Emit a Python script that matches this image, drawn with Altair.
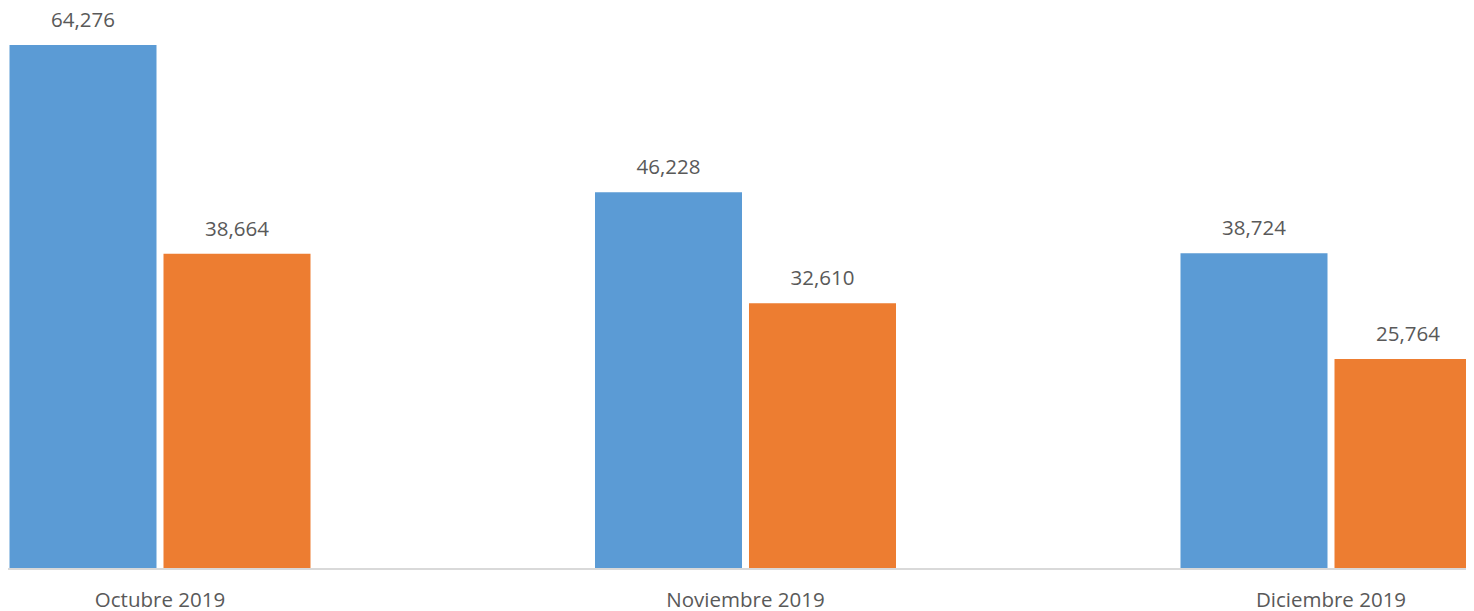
import altair as alt
import pandas as pd

months = ["Octubre 2019", "Noviembre 2019", "Diciembre 2019"]
series = ["A", "B"]
values_a = [64276, 46228, 38724]
values_b = [38664, 32610, 25764]

rows = []
for m, a, b in zip(months, values_a, values_b):
    rows.append({"mes": m, "serie": "A", "valor": a})
    rows.append({"mes": m, "serie": "B", "valor": b})
df = pd.DataFrame(rows)

W, H = 1458, 557
FONT = "Open Sans"
TXT = "#595959"

x = alt.X("mes:N", sort=months,
          scale=alt.Scale(range=[-140.75, 1615.75], paddingInner=0, paddingOuter=0),
          axis=alt.Axis(title=None, labelAngle=0, domain=False, ticks=False,
                        labelFont=FONT, labelFontSize=20.5, labelColor=TXT,
                        labelPadding=21, labelFlush=False, labelOverlap=False))
xo = alt.XOffset("serie:N", sort=series,
                 scale=alt.Scale(paddingInner=0.04545, paddingOuter=0.9237))
y = alt.Y("valor:Q", scale=alt.Scale(domain=[0, 68325], nice=False, zero=True),
          axis=None)

base = alt.Chart(df).encode(x=x, xOffset=xo, y=y)

bars = base.mark_bar(clip=True).encode(
    color=alt.Color("serie:N", sort=series,
                    scale=alt.Scale(domain=series, range=["#5B9BD5", "#ED7D31"]),
                    legend=None)
)

labels = base.mark_text(dy=-24, font=FONT, fontSize=20.5, color=TXT).encode(
    text=alt.Text("valor:Q", format=",")
)

baseline = alt.Chart(df).mark_rule(color="#D9D9D9", strokeWidth=1.5).encode(
    x=alt.value(0), x2=alt.value(W), y=alt.value(H)
)

chart = alt.layer(bars, labels, baseline).properties(
    width=W, height=H,
    autosize=alt.AutoSizeParams(type="none"),
    padding={"left": 0, "top": 4, "right": 0, "bottom": 42},
).configure_view(stroke=None)

chart.save("out.html", embed_options={"renderer": "svg", "actions": False})
